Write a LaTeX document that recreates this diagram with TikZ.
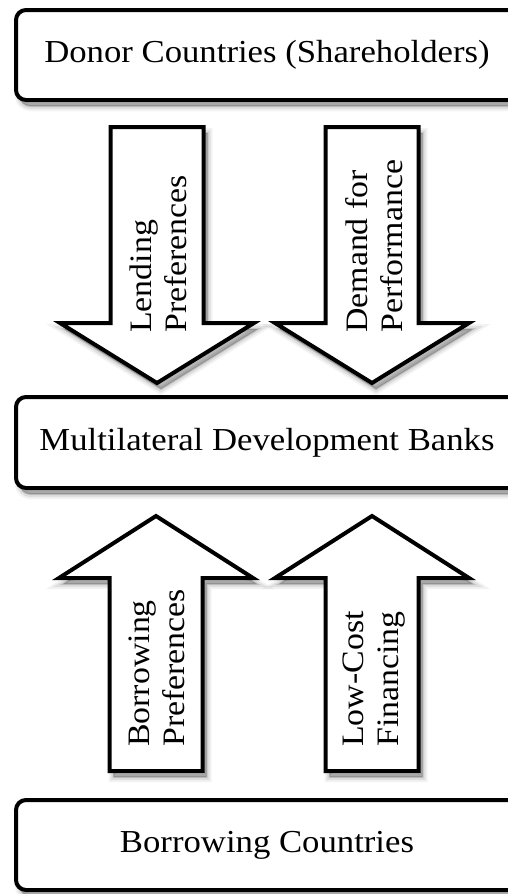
\documentclass[tikz,border=0pt]{standalone}
\usepackage{fontspec}
\setmainfont[FakeStretch=1.085]{Liberation Serif}
\tikzset{
  softshadow/.style={
    preaction={draw=black,fill=black,line width=10pt,opacity=0.05,transform canvas={xshift=4pt,yshift=-6pt}},
    preaction={draw=black,fill=black,line width=6pt,opacity=0.08,transform canvas={xshift=4pt,yshift=-6pt}},
    preaction={draw=black,fill=black,line width=2pt,opacity=0.13,transform canvas={xshift=4pt,yshift=-6pt}}
  },
  box/.style={draw=black, fill=white, line width=4pt, rounded corners=10pt,
    softshadow, inner sep=0pt, font=\fontsize{32}{38}\selectfont},
  blockarrow/.style={draw=black, fill=white, line width=4pt, line join=miter, softshadow},
  lbl/.style={rotate=90, anchor=west, align=left, inner sep=0pt,
    font=\fontsize{31.2}{35}\selectfont}
}
\newcommand{\downblock}[1]{%
  \path[blockarrow] ({#1-46.5},127) -- ({#1+46.5},127) -- ({#1+46.5},323) --
    ({#1+97},323) -- (#1,383) -- ({#1-97},323) -- ({#1-46.5},323) -- cycle;}
\newcommand{\upblock}[1]{%
  \path[blockarrow] ({#1-46.5},771) -- ({#1+46.5},771) -- ({#1+46.5},578) --
    ({#1+97},578) -- (#1,516) -- ({#1-97},578) -- ({#1-46.5},578) -- cycle;}
\begin{document}
\begin{tikzpicture}[x=1pt,y=-1pt]
\useasboundingbox (0,0) rectangle (508,894);
\fill[white] (0,0) rectangle (508,894);

\node[box, minimum width=502pt, minimum height=90pt] (donor) at (267,55) {Donor Countries (Shareholders)};
\node[box, minimum width=502pt, minimum height=91pt] (mdb) at (267,442.5) {\raisebox{4pt}{Multilateral Development Banks}};
\node[box, minimum width=502pt, minimum height=90pt] (borrow) at (267,845) {Borrowing Countries};

\downblock{157}
\downblock{372}
\upblock{156}
\upblock{372}

\node[lbl] (lend) at (158,333) {Lending\\Preferences};
\node[lbl] (demand) at (374,333) {Demand for\\Performance};
\node[lbl] (bpref) at (157,747) {Borrowing\\Preferences};
\node[lbl] (lowcost) at (374,747) {Low-Cost\\Financing};
\end{tikzpicture}
\end{document}
